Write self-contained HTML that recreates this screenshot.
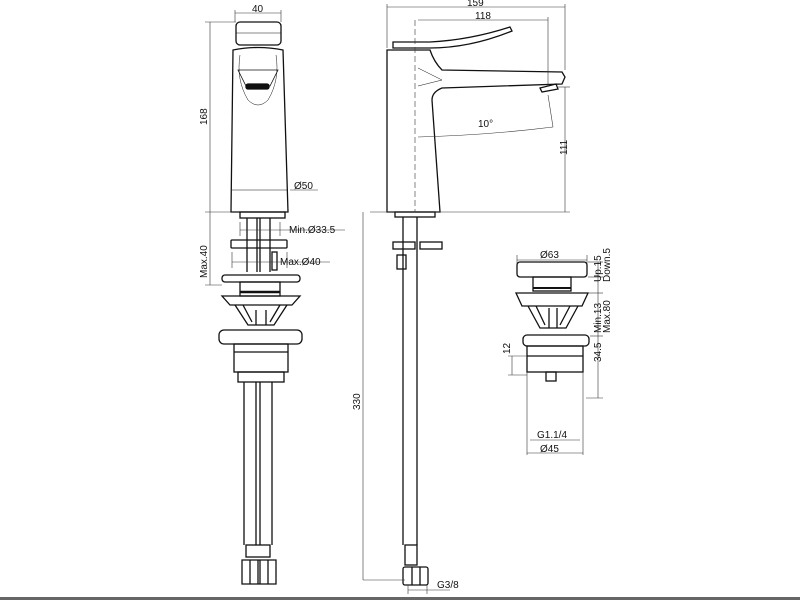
<!DOCTYPE html>
<html><head><style>
html,body{margin:0;padding:0;background:#fff;}
svg{display:block;}
text{font-family:"Liberation Sans",sans-serif;font-size:10px;fill:#111;}
</style></head><body>
<svg width="800" height="600" viewBox="0 0 800 600">
<g fill="none" stroke="#111" stroke-width="1.3">
<rect x="236" y="22" width="45" height="23" rx="4"/>
<line x1="236" y1="33" x2="281" y2="33" stroke-width="0.6"/>
<path d="M233 50 Q258 45 283 50 L288 212 L231 212 Z"/>
<path d="M240 55 Q236 80 248 100 Q258 110 268 100 Q280 80 276 55" stroke-width="0.5"/>
<path d="M238 70 L278 70 L270 86 L246 86 Z" stroke-width="0.8"/>
<rect x="246" y="84" width="23" height="5" rx="2" fill="#111"/>
<line x1="232" y1="190" x2="287" y2="190" stroke-width="0.6"/>
<rect x="240" y="212" width="45" height="6"/>
<line x1="247" y1="218" x2="247" y2="272"/><line x1="257" y1="218" x2="257" y2="272"/>
<line x1="260" y1="218" x2="260" y2="272"/><line x1="270" y1="218" x2="270" y2="272"/>
<rect x="231" y="240" width="56" height="8" rx="1"/>
<rect x="272" y="252" width="5" height="18"/>
<rect x="222" y="275" width="78" height="7" rx="3"/>
<rect x="240" y="282" width="40" height="14"/>
<line x1="240" y1="292" x2="280" y2="292" stroke-width="2.5"/>
<path d="M222 296 L300 296 L292 305 L230 305 Z"/>
<path d="M235 305 L248 325 L274 325 L287 305" />
<path d="M243 305 L252 322 M280 305 L270 322 M256 310 L256 325 M266 310 L266 325"/>
<rect x="219" y="330" width="83" height="14" rx="5"/>
<rect x="234" y="344" width="54" height="28"/>
<line x1="234" y1="352" x2="288" y2="352"/>
<rect x="238" y="372" width="46" height="10"/>
<line x1="244" y1="382" x2="244" y2="545"/><line x1="256" y1="382" x2="256" y2="545"/>
<line x1="260" y1="382" x2="260" y2="545"/><line x1="272" y1="382" x2="272" y2="545"/>
<rect x="246" y="545" width="24" height="12"/>
<path d="M242 560 h18 v24 h-18 Z M258 560 h18 v24 h-18 Z"/>
<line x1="250" y1="560" x2="250" y2="584"/><line x1="268" y1="560" x2="268" y2="584"/>

<path d="M393 42 L430 42 Q470 40 510 27 L512 31 Q470 48 430 48 L393 48 Z"/>
<path d="M387 50 L430 50 Q434 62 442 70 L562 72 L565 77 L562 84 L442 88 Q432 92 432 100 L440 212 L387 212 Z"/>
<path d="M418 68 L442 80 L418 86" stroke-width="0.5"/>
<path d="M540 88 L556 84 L558 89 L542 92 Z"/>
<rect x="395" y="212" width="40" height="5"/>
<line x1="403" y1="217" x2="403" y2="545"/><line x1="417" y1="217" x2="417" y2="545"/>
<rect x="393" y="242" width="22" height="7"/><rect x="420" y="242" width="22" height="7"/>
<rect x="397" y="255" width="9" height="14"/>
<rect x="405" y="545" width="12" height="20"/>
<rect x="403" y="567" width="25" height="18" rx="2"/>
<line x1="412" y1="567" x2="412" y2="585"/><line x1="420" y1="567" x2="420" y2="585"/>

<rect x="517" y="262" width="70" height="15" rx="3"/>
<rect x="533" y="277" width="38" height="14"/>
<line x1="533" y1="288" x2="571" y2="288" stroke-width="2"/>
<path d="M516 293 L588 293 L582 306 L522 306 Z"/>
<path d="M528 306 L540 328 L566 328 L578 306 M536 306 L545 325 M570 306 L560 325 M549 308 L549 328 M557 308 L557 328"/>
<rect x="523" y="335" width="66" height="11" rx="4"/>
<rect x="527" y="346" width="56" height="26"/>
<line x1="527" y1="356" x2="583" y2="356"/>
<rect x="546" y="372" width="10" height="9"/>
</g>

<g fill="none" stroke="#333" stroke-width="0.6">
<line x1="235" y1="13" x2="281" y2="13"/><line x1="235" y1="10" x2="235" y2="22"/><line x1="281" y1="10" x2="281" y2="22"/>
<line x1="210" y1="22" x2="210" y2="212"/><line x1="205" y1="22" x2="236" y2="22"/><line x1="205" y1="212" x2="231" y2="212"/>
<line x1="210" y1="212" x2="210" y2="285"/><line x1="205" y1="285" x2="222" y2="285"/>
<line x1="290" y1="190" x2="318" y2="190"/>
<line x1="240" y1="230" x2="345" y2="230"/><line x1="240" y1="222" x2="240" y2="236"/><line x1="280" y1="222" x2="280" y2="236"/>
<line x1="232" y1="262" x2="330" y2="262"/><line x1="232" y1="252" x2="232" y2="268"/><line x1="287" y1="252" x2="287" y2="268"/>
<line x1="387" y1="7" x2="565" y2="7"/><line x1="387" y1="4" x2="387" y2="48"/><line x1="565" y1="4" x2="565" y2="70"/>
<line x1="418" y1="20" x2="548" y2="20"/><line x1="548" y1="17" x2="548" y2="86"/>
<line x1="415" y1="20" x2="415" y2="212" stroke-dasharray="6,3"/>
<line x1="370" y1="212" x2="570" y2="212"/>
<line x1="565" y1="87" x2="565" y2="212"/><line x1="558" y1="87" x2="570" y2="87"/>
<path d="M418 137 Q490 135 553 127"/><line x1="553" y1="127" x2="548" y2="95"/>
<line x1="363" y1="212" x2="363" y2="580"/><line x1="363" y1="580" x2="405" y2="580"/>
<line x1="408" y1="590" x2="427" y2="590"/><line x1="427" y1="585" x2="427" y2="594"/><line x1="408" y1="585" x2="408" y2="594"/><line x1="427" y1="590" x2="450" y2="590"/>
<line x1="517" y1="260" x2="587" y2="260"/><line x1="517" y1="255" x2="517" y2="264"/><line x1="587" y1="255" x2="587" y2="264"/>
<line x1="598" y1="262" x2="598" y2="398"/>
<line x1="588" y1="262" x2="603" y2="262"/><line x1="588" y1="277" x2="603" y2="277"/><line x1="588" y1="293" x2="603" y2="293"/><line x1="590" y1="336" x2="603" y2="336"/><line x1="586" y1="398" x2="603" y2="398"/>
<line x1="512" y1="356" x2="512" y2="375"/><line x1="508" y1="356" x2="527" y2="356"/><line x1="508" y1="375" x2="527" y2="375"/>
<line x1="527" y1="372" x2="527" y2="455"/><line x1="583" y1="372" x2="583" y2="455"/>
<line x1="530" y1="440" x2="580" y2="440"/><line x1="527" y1="453" x2="583" y2="453"/>
</g>

<text x="252" y="12">40</text>
<text x="207" y="125" transform="rotate(-90 207 125)">168</text>
<text x="207" y="278" transform="rotate(-90 207 278)">Max.40</text>
<text x="294" y="189">Ø50</text>
<text x="289" y="233">Min.Ø33.5</text>
<text x="280" y="265">Max.Ø40</text>
<text x="467" y="6">159</text>
<text x="475" y="19">118</text>
<text x="478" y="127">10°</text>
<text x="567" y="155" transform="rotate(-90 567 155)">111</text>
<text x="360" y="410" transform="rotate(-90 360 410)">330</text>
<text x="437" y="588">G3/8</text>
<text x="540" y="258">Ø63</text>
<text x="601" y="282" transform="rotate(-90 601 282)">Up.15</text>
<text x="610" y="282" transform="rotate(-90 610 282)">Down.5</text>
<text x="601" y="333" transform="rotate(-90 601 333)">Min.13</text>
<text x="610" y="333" transform="rotate(-90 610 333)">Max.80</text>
<text x="601" y="362" transform="rotate(-90 601 362)">34.5</text>
<text x="510" y="354" transform="rotate(-90 510 354)">12</text>
<text x="537" y="438">G1.1/4</text>
<text x="540" y="452">Ø45</text>
<rect x="0" y="597" width="800" height="3" fill="#666"/>
</svg>
</body></html>
